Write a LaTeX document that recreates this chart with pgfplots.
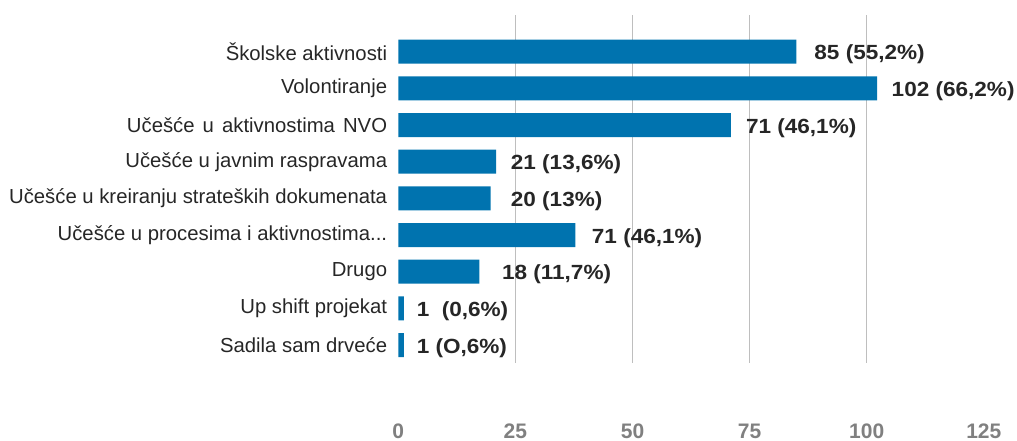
\documentclass[border=0pt]{standalone}
\usepackage{fontspec}
\setmainfont{Liberation Sans}
\newfontfamily\valfont{Liberation Sans}[FakeStretch=1.1]
\usepackage{pgfplots}
\pgfplotsset{compat=1.18}
\definecolor{barblue}{RGB}{0,115,175}
\definecolor{gridgray}{RGB}{190,190,190}
\definecolor{tickgray}{RGB}{128,128,128}
\definecolor{txt}{RGB}{38,38,38}
\begin{document}
\begin{tikzpicture}
\useasboundingbox (0,0) rectangle (1017pt,441pt);
\begin{axis}[
  at={(398.3pt,78pt)}, anchor=south west,
  scale only axis, width=585.5pt, height=348pt,
  xmin=0, xmax=125, ymin=-1, ymax=8.49, y dir=reverse,
  axis line style={draw=none},
  major tick length=0pt,
  xtick={0,25,50,75,100,125},
  extra x ticks={25,50,75,100},
  extra x tick labels={},
  extra x tick style={grid=major, major grid style={color=gridgray, line width=1.2pt}},
  xticklabel style={font=\fontsize{21}{21}\selectfont\bfseries, text=tickgray, anchor=north, inner sep=0pt, yshift=-60.5pt},
  /pgf/number format/assume math mode=true,
  ytick={0,1,2,3,4,5,6,7,8},
  yticklabels={{Školske aktivnosti}, {Volontiranje}, {Učešće\hspace{0.4em}u\hspace{0.4em}aktivnostima\hspace{0.4em}NVO}, {Učešće u javnim raspravama}, {Učešće u kreiranju strateških dokumenata}, {Učešće u procesima i aktivnostima.{}.{}.}, {Drugo}, {Up shift projekat}, {Sadila sam drveće}},
  yticklabel style={font=\fontsize{20.3}{20.3}\selectfont, text=txt, anchor=east, inner sep=0pt, xshift=-11pt},
  clip=false,
]
\addplot[xbar, bar width=24pt, fill=barblue, draw=none] coordinates {
  (85,0) (102.2,1) (71,2) (20.9,3) (19.7,4) (37.8,5) (17.3,6) (1.2,7) (1.2,8)
};
\addplot[draw=none, mark=none, nodes near coords, point meta=explicit symbolic,
  nodes near coords style={anchor=west, inner sep=0pt, yshift=-3pt, text=txt,
    font=\valfont\bfseries\fontsize{20.5}{20.5}\selectfont}] coordinates {
  (88.8,0) [85 (55,2\%)]
  (105.3,1) [102 (66,2\%)]
  (74.2,2) [71 (46,1\%)]
  (24.0,3) [21 (13,6\%)]
  (24.0,4) [20 (13\%)]
  (41.3,5) [71 (46,1\%)]
  (22.1,6) [18 (11,7\%)]
  (3.9,7) [1\ \ (0,6\%)]
  (3.9,8) [1 (O,6\%)]
};
\end{axis}
\end{tikzpicture}
\end{document}
